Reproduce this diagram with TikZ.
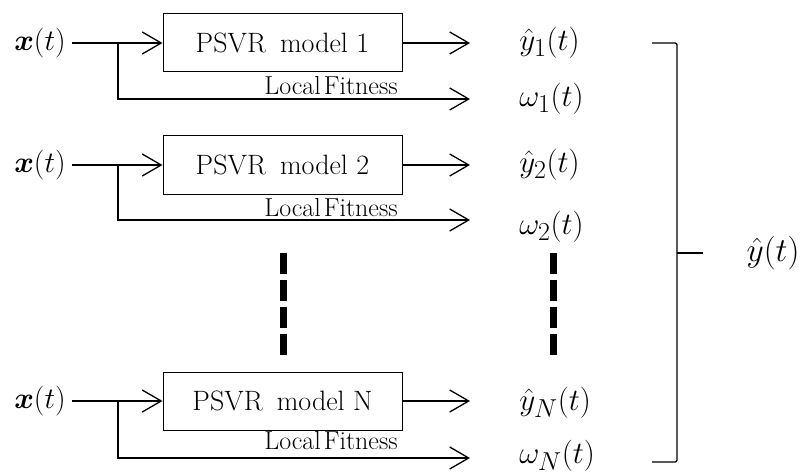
\documentclass[tikz,border=0pt]{standalone}
\usepackage{amsmath}
\usetikzlibrary{arrows.meta}
\begin{document}
\begin{tikzpicture}[x=1pt,y=-1pt,
  box/.style={draw,line width=1pt,minimum width=239pt,minimum height=58pt,inner sep=0pt,font=\fontsize{28}{32}\selectfont},
  lbl/.style={inner sep=0pt,scale=1.25,font=\fontsize{24.88}{30}\selectfont},
  xlbl/.style={inner sep=0pt,scale=1.2,font=\fontsize{24.88}{30}\selectfont},
  fitlbl/.style={inner sep=0pt,font=\fontsize{26}{30}\selectfont},
  arr/.style={line width=1.3pt,-{Straight Barb[length=19pt,width=22pt,line width=1.3pt]}},
  ln/.style={line width=1.3pt},
  dotsline/.style={line width=7pt,dash pattern=on 21pt off 6pt}]
\useasboundingbox (0,0) rectangle (805,473);
\foreach \i/\ym/\yb/\yf/\yw/\yh in {1/43/99/86/99/43, 2/165/220/208/227/165, N/401/458/441/456/403}{
  \node[xlbl] (x\i) at (40,\ym) {$\boldsymbol{x}(t)$};
  \node[box] (m\i) at (282.5,\ym) {PSVR\hspace{14pt}model \i};
  \coordinate (b\i) at (118,\ym);
  \coordinate (o\i) at (470,\ym);
  \coordinate (e\i) at (470,\yb);
  \node[fitlbl] (f\i) at (331,\yf) {Local\hspace{3pt}Fitness};
  \node[lbl,anchor=west] (y\i) at (519,\yh) {$\hat{y}_{\i}(t)$};
  \node[lbl,anchor=west] (w\i) at (519,\yw) {$\omega_{\i}(t)$};
  \draw[arr,shorten <=6pt] (x\i.east) -- (m\i.west);
  \draw[arr] (m\i.east) -- (o\i);
  \draw[arr] (b\i) |- (e\i);
}
\draw[dotsline] (283.5,253) -- (283.5,356);
\draw[dotsline] (553,253) -- (553,356);
\coordinate (bt) at (652,43);
\coordinate (bb) at (652,462);
\coordinate (bm) at (677,253);
\coordinate (bo) at (703,253);
\node[lbl,scale=1.08] (Y) at (773,253) {$\hat{y}(t)$};
\draw[ln,rounded corners=2pt] (bt) -| (bm) |- (bb);
\draw[ln] (bm) -- (bo);
\end{tikzpicture}
\end{document}
